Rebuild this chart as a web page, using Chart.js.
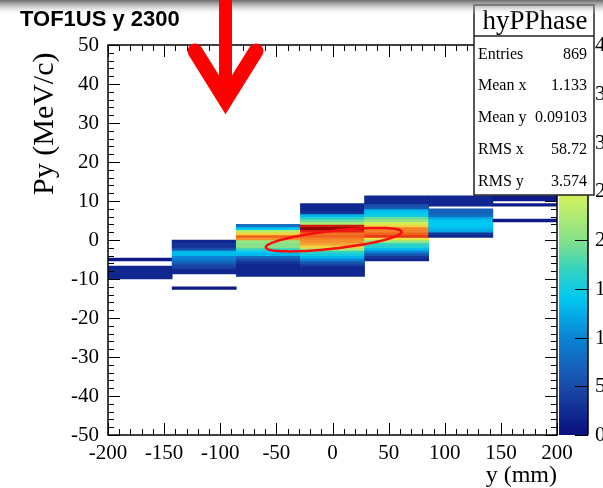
<!DOCTYPE html>
<html>
<head>
<meta charset="utf-8">
<script src="https://cdn.jsdelivr.net/npm/chart.js@4/dist/chart.umd.min.js"></script>
<style>
  html, body { margin: 0; padding: 0; background: #fff; }
</style>
</head>
<body>
<canvas id="phaseChart" width="603" height="488"></canvas>
<script>
// hyPPhase: 7 bins in y (mm) from -200 to 200, 150 bins in Py (MeV/c) from -50 to 50
var pyBinWidth = 100 / 150;
var zMax = 40;

// column labels (bin centres in mm) for the hidden bar axis
var columnLabels = ["-171.4", "-114.3", "-57.1", "0", "57.1", "114.3", "171.4"];

// lowest filled Py bin of each column, counted from Py = 0
var firstBin = [-15, -19, -14, -14, -8, 1, 7];

// bin contents of each column, from the lowest filled bin upwards
var col1 = [2, 2, 2, 2, 2, 0, 0, 1];
var col2 = [1, 0, 0, 0, 0, 0, 2, 2, 4, 5, 7, 9, 10, 13, 13, 6, 3, 3, 2];
var col3 = [2, 2, 2, 2, 2, 3, 5, 8, 13, 14, 17, 20, 20, 21, 30, 33, 27, 23, 14, 8];
var col4 = [2, 2, 2, 2, 4, 6, 10, 13, 15, 17, 22, 27, 29, 30, 31, 33, 32, 36, 40, 37, 22, 19, 16, 13, 3, 2, 2, 2];
var col5 = [2, 3, 6, 10, 13, 16, 17, 21, 26, 35, 33, 31, 31, 27, 25, 21, 19, 15, 14, 13, 6, 5, 2, 2, 2];
var col6 = [2, 3, 12, 13, 14, 14, 14, 12, 8, 7, 7, 0, 2, 2, 2, 2];
var col7 = [1, 0, 0, 0, 0, 0, 1, 0, 1, 1];

// stats box
var statsName = "hyPPhase";
var statsLabels = ["Entries", "Mean x", "Mean y", "RMS x", "RMS y"];
var statsValues = ["869", "1.133", "0.09103", "58.72", "3.574"];

// beam ellipse: centre at the means, semi-axis vectors in (mm, MeV/c)
var ellipseCentre = [1.133, 0.09103];
var ellipseMajor = [60.5, 1.95];
var ellipseMinor = [0, 2.3];

// colour palette (fraction of zMax -> colour)
var paletteStops = [0, 0.125, 0.25, 0.35, 0.425, 0.5, 0.6, 0.66, 0.72, 0.82, 0.9, 1];
var paletteColors = ["#0b0f7e", "#1a4caa", "#0a84d4", "#00c8f2", "#34d3bf", "#86e18a",
  "#c9f062", "#f0e445", "#f5a436", "#f2661f", "#e52012", "#8e0000"];

function hexToRgb(h) {
  return [parseInt(h.substr(1, 2), 16), parseInt(h.substr(3, 2), 16), parseInt(h.substr(5, 2), 16)];
}

function paletteColor(f) {
  f = Math.max(0, Math.min(1, f));
  for (var i = 1; i < paletteStops.length; i++) {
    if (f <= paletteStops[i]) {
      var t = (f - paletteStops[i - 1]) / (paletteStops[i] - paletteStops[i - 1]);
      var a = hexToRgb(paletteColors[i - 1]);
      var b = hexToRgb(paletteColors[i]);
      return "rgb(" + Math.round(a[0] + (b[0] - a[0]) * t) + "," +
        Math.round(a[1] + (b[1] - a[1]) * t) + "," + Math.round(a[2] + (b[2] - a[2]) * t) + ")";
    }
  }
  return paletteColors[paletteColors.length - 1];
}

// turn the columns into floating bars, one per filled cell
var columns = [col1, col2, col3, col4, col5, col6, col7];
var cells = [];
var cellColors = [];
columns.forEach(function (counts, c) {
  counts.forEach(function (n, k) {
    if (n <= 0) return;
    var j = firstBin[c] + k;
    cells.push({ x: columnLabels[c], y: [j * pyBinWidth, (j + 1) * pyBinWidth] });
    cellColors.push(paletteColor(n / zMax));
  });
});

function line(ctx, x1, y1, x2, y2) {
  ctx.beginPath();
  ctx.moveTo(x1, y1);
  ctx.lineTo(x2, y2);
  ctx.stroke();
}

// frame ticks, ellipse, palette, stats box, title and the red arrow
var rootDecor = {
  id: "rootDecor",
  afterDraw: function (chart) {
    var ctx = chart.ctx;
    var sx = chart.scales.x, sy = chart.scales.y, sz = chart.scales.zbar;
    var area = chart.chartArea;
    ctx.save();

    // ellipse
    ctx.strokeStyle = "#f50f0f";
    ctx.lineWidth = 2.5;
    ctx.beginPath();
    for (var d = 0; d <= 360; d += 3) {
      var t = d * Math.PI / 180;
      var ex = ellipseCentre[0] + ellipseMajor[0] * Math.cos(t) + ellipseMinor[0] * Math.sin(t);
      var ey = ellipseCentre[1] + ellipseMajor[1] * Math.cos(t) + ellipseMinor[1] * Math.sin(t);
      var px = sx.getPixelForValue(ex), py = sy.getPixelForValue(ey);
      if (d === 0) ctx.moveTo(px, py); else ctx.lineTo(px, py);
    }
    ctx.closePath();
    ctx.stroke();

    // frame with inward ticks on all sides
    ctx.strokeStyle = "#000";
    ctx.lineWidth = 1;
    var v, p, len;
    for (v = -200; v <= 200; v += 10) {
      p = Math.round(sx.getPixelForValue(v)) + 0.5;
      len = v % 50 === 0 ? 12 : 6;
      line(ctx, p, area.bottom, p, area.bottom - len);
      line(ctx, p, area.top, p, area.top + len);
    }
    for (v = -50; v <= 50; v += 2) {
      p = Math.round(sy.getPixelForValue(v)) + 0.5;
      len = v % 10 === 0 ? 12 : 6;
      line(ctx, area.left, p, area.left + len, p);
      line(ctx, area.right, p, area.right - len, p);
    }
    ctx.lineWidth = 1.5;
    ctx.strokeRect(area.left, area.top, area.right - area.left, area.bottom - area.top);

    // colour palette on the right
    var barL = area.right + 2, barR = area.right + 31;
    for (var yy = Math.floor(area.top); yy < area.bottom; yy++) {
      ctx.fillStyle = paletteColor(sz.getValueForPixel(yy + 0.5) / zMax);
      ctx.fillRect(barL, yy, barR - barL, 1);
    }
    ctx.lineWidth = 1.5;
    line(ctx, barR, area.top, barR, area.bottom);
    ctx.lineWidth = 1;
    ctx.fillStyle = "#000";
    ctx.font = "21px 'Liberation Serif'";
    ctx.textAlign = "left";
    ctx.textBaseline = "middle";
    for (v = 0; v <= zMax; v += 5) {
      p = Math.round(sz.getPixelForValue(v)) + 0.5;
      line(ctx, barR, p, barR - 13, p);
      ctx.fillText(String(v), barR + 7, p);
    }

    // stats box
    var bx = 474, by = 5, bw = 120, bh = 190;
    ctx.fillStyle = "#fff";
    ctx.fillRect(bx, by, bw, bh);
    ctx.strokeStyle = "#222";
    ctx.lineWidth = 1.5;
    ctx.strokeRect(bx, by, bw, bh);
    line(ctx, bx, by + 31, bx + bw, by + 31);
    ctx.fillStyle = "#000";
    ctx.font = "27px 'Liberation Serif'";
    ctx.textAlign = "center";
    ctx.textBaseline = "alphabetic";
    ctx.fillText(statsName, bx + bw / 2 + 1, by + 24);
    ctx.font = "16px 'Liberation Serif'";
    for (var i = 0; i < statsLabels.length; i++) {
      var base = by + 53.5 + i * 31.8;
      ctx.textAlign = "left";
      ctx.fillText(statsLabels[i], bx + 4, base);
      ctx.textAlign = "right";
      ctx.fillText(statsValues[i], bx + bw - 7, base);
    }

    // grey strip along the top and the title
    var g = ctx.createLinearGradient(0, 0, 0, 15);
    g.addColorStop(0, "rgba(90,90,90,0.9)");
    g.addColorStop(0.45, "rgba(160,160,160,0.55)");
    g.addColorStop(1, "rgba(255,255,255,0)");
    ctx.fillStyle = g;
    ctx.fillRect(0, 0, chart.width, 15);
    ctx.fillStyle = "#000";
    ctx.font = "bold 22px 'Liberation Sans'";
    ctx.textAlign = "left";
    ctx.fillText("TOF1US y 2300", 20, 26);

    // red arrow drawn over the plot
    ctx.strokeStyle = "#ff0000";
    ctx.lineWidth = 13;
    ctx.lineCap = "butt";
    line(ctx, 225.5, 0, 225.5, 100);
    ctx.lineWidth = 15;
    ctx.lineCap = "round";
    ctx.lineJoin = "miter";
    ctx.beginPath();
    ctx.moveTo(195, 51);
    ctx.lineTo(225.5, 100);
    ctx.lineTo(256, 51);
    ctx.stroke();

    ctx.restore();
  }
};

Chart.defaults.font.family = "'Liberation Serif'";
Chart.defaults.color = "#000";

var phaseChart = new Chart(document.getElementById("phaseChart").getContext("2d"), {
  type: "bar",
  data: {
    datasets: [{
      data: cells,
      backgroundColor: cellColors,
      borderWidth: 0,
      grouped: false,
      barPercentage: 1,
      categoryPercentage: 1,
      xAxisID: "xb",
      yAxisID: "y"
    }]
  },
  options: {
    responsive: false,
    animation: false,
    events: [],
    layout: { padding: { left: 0, right: 46, top: 45, bottom: 0 } },
    plugins: { legend: { display: false }, tooltip: { enabled: false } },
    scales: {
      xb: { type: "category", labels: columnLabels, offset: true, display: false },
      x: {
        type: "linear",
        position: "bottom",
        min: -200,
        max: 200,
        offset: false,
        grid: { display: false, drawTicks: false, offset: false },
        border: { display: false },
        ticks: { stepSize: 50, autoSkip: false, maxRotation: 0, padding: 8, font: { size: 21, lineHeight: 1 } },
        title: { display: true, text: "y (mm)", align: "end", font: { size: 24, lineHeight: 1 }, padding: { top: 0, bottom: 0 } },
        afterFit: function (s) { s.height = 53; }
      },
      y: {
        type: "linear",
        position: "left",
        min: -50,
        max: 50,
        grid: { display: false, drawTicks: false },
        border: { display: false },
        ticks: { stepSize: 10, padding: 9, font: { size: 21, lineHeight: 1 } },
        title: { display: true, text: "Py (MeV/c) ", align: "end", font: { size: 30, lineHeight: 1 }, padding: { top: 30, bottom: 0 } },
        afterFit: function (s) { s.width = 108; }
      },
      zbar: { type: "linear", axis: "y", position: "right", display: false, min: 0, max: zMax }
    }
  },
  plugins: [rootDecor]
});
</script>
</body>
</html>
